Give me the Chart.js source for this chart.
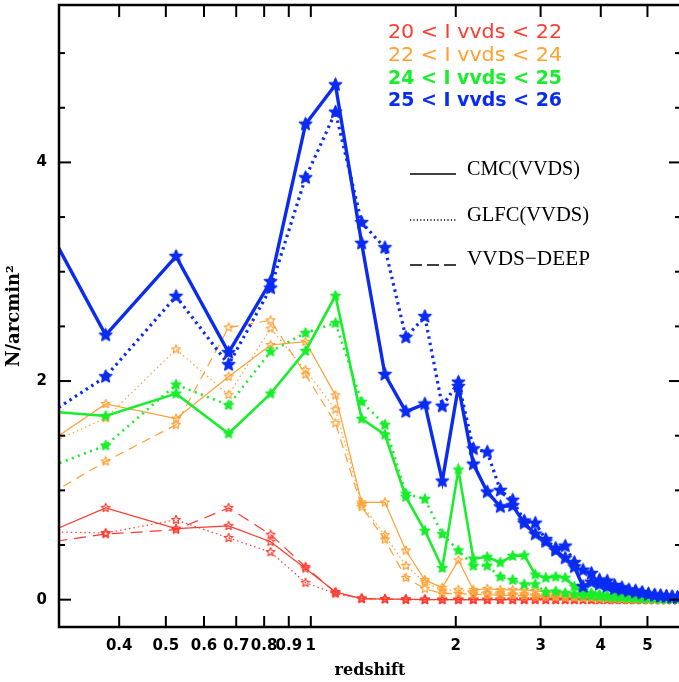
<!DOCTYPE html>
<html>
<head>
<meta charset="utf-8">
<script src="https://cdn.jsdelivr.net/npm/chart.js@4.4.1/dist/chart.umd.min.js"></script>
<style>
    html, body { margin: 0; padding: 0; background: #fff; overflow: hidden; }
</style>
</head>
<body>
<canvas id="chart" width="682" height="682"></canvas>
<script>
// redshift bin centres (first bin sits just left of the plotted range)
const redshiftBins = [0.225, 0.375, 0.525, 0.675, 0.825, 0.975, 1.125, 1.275, 1.425, 1.575,
    1.725, 1.875, 2.025, 2.175, 2.325, 2.475, 2.625, 2.775, 2.925, 3.075,
    3.225, 3.375, 3.525, 3.675, 3.825, 3.975, 4.125, 4.275, 4.425, 4.575,
    4.725, 4.875, 5.025, 5.175, 5.325, 5.475, 5.625, 5.775];

// 25 < I < 26
const cmc26 = [4.23, 2.42, 3.14, 2.26, 2.91, 4.35, 4.71, 3.26, 2.06, 1.72,
    1.79, 1.085, 1.95, 1.24, 0.985, 0.85, 0.86, 0.70, 0.60, 0.53,
    0.45, 0.38, 0.30, 0.12, 0.16, 0.14, 0.12, 0.10, 0.09, 0.08,
    0.07, 0.06, 0.05, 0.04, 0.035, 0.03, 0.025, 0.02];
const glfc26 = [1.40, 2.04, 2.775, 2.15, 2.85, 3.86, 4.46, 3.45, 3.22, 2.40,
    2.59, 1.77, 1.99, 1.38, 1.35, 1.00, 0.91, 0.72, 0.70, 0.55,
    0.47, 0.49, 0.34, 0.27, 0.24, 0.18, 0.17, 0.13, 0.11, 0.09,
    0.08, 0.065, 0.05, 0.04, 0.035, 0.03, 0.025, 0.02];

// 24 < I < 25
const cmc25 = [1.76, 1.68, 1.885, 1.52, 1.885, 2.275, 2.78, 1.655, 1.51, 0.94,
    0.63, 0.29, 1.19, 0.375, 0.39, 0.34, 0.40, 0.405, 0.23, 0.20,
    0.21, 0.20, 0.12, 0.08, 0.06, 0.05, 0.04, 0.035, 0.03, 0.025,
    0.02, 0.02, 0.015, 0.015, 0.01, 0.01, 0.01, 0.01];
const glfc25 = [1.04, 1.41, 1.967, 1.78, 2.27, 2.44, 2.53, 1.81, 1.60, 0.97,
    0.92, 0.60, 0.45, 0.31, 0.31, 0.21, 0.18, 0.14, 0.14, 0.07,
    0.075, 0.06, 0.05, 0.04, 0.035, 0.03, 0.025, 0.02, 0.02, 0.015,
    0.015, 0.01, 0.01, 0.01, 0.01, 0.005, 0.005, 0.005];

// 22 < I < 24
const cmc24 = [1.13, 1.79, 1.656, 2.04, 2.33, 2.36, 1.87, 0.89, 0.89, 0.45,
    0.18, 0.11, 0.36, 0.09, 0.10, 0.09, 0.09, 0.09, 0.08, 0.07,
    0.06, 0.05, 0.04, 0.035, 0.03, 0.025, 0.02, 0.02, 0.015, 0.01,
    0.01, 0.01, 0.01, 0.005, 0.005, 0.005, 0.005, 0.005];
const glfc24 = [1.22, 1.66, 2.29, 1.875, 2.48, 2.10, 1.74, 0.87, 0.59, 0.31,
    0.16, 0.085, 0.09, 0.07, 0.06, 0.06, 0.05, 0.05, 0.04, 0.04,
    0.035, 0.03, 0.025, 0.02, 0.02, 0.015, 0.015, 0.01, 0.01, 0.01,
    0.005, 0.005, 0.005, 0.005, 0.005, 0, 0, 0];
const deep24 = [0.69, 1.265, 1.60, 2.49, 2.555, 2.06, 1.615, 0.85, 0.55, 0.20,
    0.10, 0.055, 0.055, 0.05, 0.045, 0.04, 0.04, 0.035, 0.03, 0.03,
    0.025, 0.02, 0.02, 0.015, 0.015, 0.01, 0.01, 0.01, 0.005, 0.005,
    0.005, 0.005, 0, 0, 0, 0, 0, 0];

// 20 < I < 22
const cmc22 = [0.42, 0.84, 0.65, 0.675, 0.53, 0.285, 0.07, 0.01, 0.005, 0.005,
    0, 0, 0, 0, 0, 0, 0, 0, 0, 0, 0, 0, 0, 0, 0, 0, 0, 0, 0, 0, 0, 0, 0, 0, 0, 0, 0, 0];
const glfc22 = [0.63, 0.61, 0.73, 0.565, 0.435, 0.155, 0.055, 0.01, 0.005, 0,
    0, 0, 0, 0, 0, 0, 0, 0, 0, 0, 0, 0, 0, 0, 0, 0, 0, 0, 0, 0, 0, 0, 0, 0, 0, 0, 0, 0];
const deep22 = [0.46, 0.60, 0.64, 0.84, 0.595, 0.30, 0.065, 0.01, 0.005, 0,
    0, 0, 0, 0, 0, 0, 0, 0, 0, 0, 0, 0, 0, 0, 0, 0, 0, 0, 0, 0, 0, 0, 0, 0, 0, 0, 0, 0];

const xTickValues = [0.4, 0.5, 0.6, 0.7, 0.8, 0.9, 1, 2, 3, 4, 5];
const xTickLabels = ["0.4", "0.5", "0.6", "0.7", "0.8", "0.9", "1", "2", "3", "4", "5"];
const yTickValues = [0, 2, 4];
const yTickLabels = ["0", "2", "4"];
const yMinorTicks = [0.5, 1, 1.5, 2.5, 3, 3.5, 4.5, 5];

const rangeLabels = ["20 < I vvds < 22", "22 < I vvds < 24", "24 < I vvds < 25", "25 < I vvds < 26"];
const methodLabels = ["CMC(VVDS)", "GLFC(VVDS)", "VVDS\u2212DEEP"];

const RED = "#ff3b30";
const ORANGE = "#ffa033";
const GREEN = "#18ee2c";
const BLUE = "#0a2cf2";

function makeStar(radius, color, filled) {
    const size = Math.ceil(radius * 2 + 4);
    const c = document.createElement("canvas");
    c.width = size;
    c.height = size;
    const g = c.getContext("2d");
    g.translate(size / 2, size / 2);
    g.beginPath();
    for (let i = 0; i < 10; i++) {
        const r = i % 2 === 0 ? radius : radius * 0.45;
        const a = -Math.PI / 2 + i * Math.PI / 5;
        if (i === 0) g.moveTo(r * Math.cos(a), r * Math.sin(a));
        else g.lineTo(r * Math.cos(a), r * Math.sin(a));
    }
    g.closePath();
    g.lineJoin = "round";
    g.strokeStyle = color;
    if (filled) {
        g.fillStyle = color;
        g.fill();
        g.lineWidth = 1.5;
    } else {
        g.lineWidth = 1.2;
    }
    g.stroke();
    return c;
}

function series(values, color, width, dash, star) {
    return {
        data: redshiftBins.map((z, i) => ({ x: z, y: values[i] })),
        borderColor: color,
        backgroundColor: color,
        borderWidth: width,
        borderDash: dash,
        pointStyle: star,
        pointRadius: 5,
        tension: 0
    };
}

const blueStar = makeStar(6.5, BLUE, true);
const greenStar = makeStar(5, GREEN, true);
const orangeStar = makeStar(4.6, ORANGE, false);
const redStar = makeStar(4.6, RED, false);

// first dataset is drawn on top
const datasets = [
    series(cmc26, BLUE, 3.4, [], blueStar),
    series(glfc26, BLUE, 3.2, [2.5, 4], blueStar),
    series(cmc25, GREEN, 2.6, [], greenStar),
    series(glfc25, GREEN, 2.6, [2, 4.5], greenStar),
    series(cmc24, ORANGE, 1.2, [], orangeStar),
    series(glfc24, ORANGE, 1.2, [1.5, 3], orangeStar),
    series(deep24, ORANGE, 1.2, [9, 6], orangeStar),
    series(cmc22, RED, 1.2, [], redStar),
    series(glfc22, RED, 1.2, [1.5, 3], redStar),
    series(deep22, RED, 1.2, [12, 7], redStar)
];

// frame and inward tick marks on all four sides
const framePlugin = {
    id: "frame",
    afterDatasetsDraw(chart) {
        const ctx = chart.ctx;
        const a = chart.chartArea;
        const xs = chart.scales.x;
        const ys = chart.scales.y;

        function seg(x1, y1, x2, y2) {
            ctx.beginPath();
            ctx.moveTo(x1, y1);
            ctx.lineTo(x2, y2);
            ctx.stroke();
        }

        ctx.save();
        ctx.strokeStyle = "#000";
        ctx.lineWidth = 2;
        xTickValues.forEach((v) => {
            const px = xs.getPixelForValue(v);
            seg(px, a.bottom, px, a.bottom - 11);
            seg(px, a.top, px, a.top + 12);
        });
        yTickValues.forEach((v) => {
            const py = ys.getPixelForValue(v);
            seg(a.left, py, a.left + 12, py);
            seg(a.right, py, a.right - 12, py);
        });
        yMinorTicks.forEach((v) => {
            const py = ys.getPixelForValue(v);
            seg(a.left, py, a.left + 6, py);
            seg(a.right, py, a.right - 6, py);
        });
        ctx.lineWidth = 2.5;
        ctx.strokeRect(a.left, a.top, a.right - a.left, a.bottom - a.top);
        ctx.restore();
    }
};

// draw text squeezed or stretched to the width it has in the original
function fitText(ctx, text, x, y, width) {
    const w = ctx.measureText(text).width;
    ctx.save();
    ctx.translate(x, y);
    ctx.scale(width / w, 1);
    ctx.fillText(text, 0, 0);
    ctx.restore();
}

// colour key for the magnitude ranges and line style key for the methods
const keyPlugin = {
    id: "key",
    afterDraw(chart) {
        const ctx = chart.ctx;
        const colors = [RED, ORANGE, GREEN, BLUE];
        const rowsY = [33, 56, 79, 101];

        ctx.save();
        ctx.textBaseline = "middle";
        ctx.textAlign = "left";
        rangeLabels.forEach((label, i) => {
            ctx.font = (i < 2 ? "" : "bold ") + "19px 'DejaVu Sans'";
            ctx.fillStyle = colors[i];
            fitText(ctx, label, 388, rowsY[i], 174);
        });

        const textY = [169, 215, 259];
        const textW = [113, 122, 123];
        const lineY = [174, 220, 265];
        const dashes = [[], [1.2, 2.2], [12, 5]];
        ctx.font = "21px 'Liberation Serif'";
        ctx.fillStyle = "#000";
        ctx.strokeStyle = "#000";
        ctx.lineWidth = 1.3;
        methodLabels.forEach((label, i) => {
            ctx.setLineDash(dashes[i]);
            ctx.beginPath();
            ctx.moveTo(410, lineY[i]);
            ctx.lineTo(456, lineY[i]);
            ctx.stroke();
            fitText(ctx, label, 467, textY[i], textW[i]);
        });
        ctx.restore();
    }
};

new Chart(document.getElementById("chart"), {
    type: "line",
    data: { datasets: datasets },
    plugins: [framePlugin, keyPlugin],
    options: {
        responsive: false,
        animation: false,
        layout: { autoPadding: false, padding: { top: 5, right: 1, left: 0, bottom: 0 } },
        plugins: { legend: { display: false }, tooltip: { enabled: false } },
        scales: {
            x: {
                type: "logarithmic",
                min: 0.3,
                max: 5.87,
                grid: { display: false },
                border: { display: false },
                afterBuildTicks: (scale) => {
                    scale.ticks = xTickValues.map((v) => ({ value: v }));
                },
                afterFit: (scale) => {
                    scale.height = 55;
                    scale.paddingLeft = 0;
                    scale.paddingRight = 0;
                },
                ticks: {
                    autoSkip: false,
                    maxRotation: 0,
                    minRotation: 0,
                    padding: 2,
                    color: "#000",
                    font: { family: "DejaVu Sans", size: 15, weight: "bold" },
                    callback: (value, index) => xTickLabels[index]
                },
                title: {
                    display: true,
                    text: "redshift",
                    color: "#000",
                    padding: { top: 0, bottom: 2 },
                    font: { family: "DejaVu Serif", size: 16, weight: "bold" }
                }
            },
            y: {
                type: "linear",
                min: -0.25,
                max: 5.44,
                grid: { display: false },
                border: { display: false },
                afterBuildTicks: (scale) => {
                    scale.ticks = yTickValues.map((v) => ({ value: v }));
                },
                afterFit: (scale) => {
                    scale.width = 59;
                    scale.paddingTop = 0;
                    scale.paddingBottom = 0;
                },
                ticks: {
                    padding: 4,
                    color: "#000",
                    font: { family: "DejaVu Sans", size: 15, weight: "bold" },
                    callback: (value, index) => yTickLabels[index]
                },
                title: {
                    display: true,
                    text: "N/arcmin\u00b2",
                    color: "#000",
                    padding: { top: 4, bottom: 0 },
                    font: { family: "DejaVu Serif", size: 18, weight: "bold" }
                }
            }
        }
    }
});
</script>
</body>
</html>
